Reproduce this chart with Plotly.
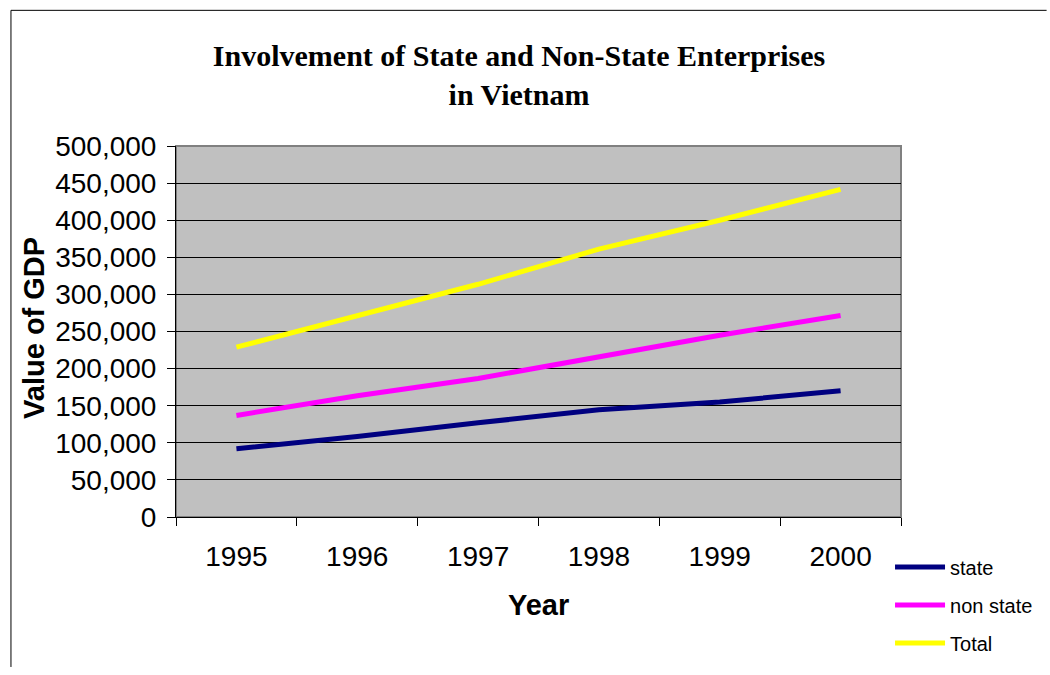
import plotly.graph_objects as go

years = ["1995", "1996", "1997", "1998", "1999", "2000"]
state = [92023, 108634, 126969, 144405, 154927, 170141]
non_state = [136869, 163402, 186654, 216612, 245015, 271505]
total = [228892, 272036, 313623, 361017, 399942, 441646]

y_ticks = [0, 50000, 100000, 150000, 200000, 250000, 300000, 350000, 400000, 450000, 500000]

series = [
    ("state", state, "#000080"),
    ("non state", non_state, "#FF00FF"),
    ("Total", total, "#FFFF00"),
]

fig = go.Figure()
for i, (name, vals, col) in enumerate(series):
    fig.add_trace(go.Scatter(
        x=years, y=vals, name=name, mode="lines",
        line=dict(color=col, width=5),
        legendgroup=f"g{i}",
    ))

W, H = 1050, 675
L, R, T, B = 176, 147, 146, 153
pw, ph = W - L - R, H - T - B

def px(x):
    return (x - L) / pw

def py(y):
    return (H - B - y) / ph

fig.update_layout(
    width=W, height=H,
    margin=dict(l=L, r=R, t=T, b=B),
    paper_bgcolor="white",
    plot_bgcolor="#C0C0C0",
    font=dict(family="Liberation Sans, Arial, sans-serif", color="black"),
    showlegend=True,
    legend=dict(
        x=px(892), y=py(553), xanchor="left", yanchor="top",
        font=dict(size=20, family="Liberation Sans, Arial, sans-serif"),
        bgcolor="rgba(0,0,0,0)", tracegroupgap=9, traceorder="grouped",
        itemwidth=50, borderwidth=0,
    ),
    title=dict(
        text="<b>Involvement of State and Non-State Enterprises<br>in Vietnam</b>",
        font=dict(family="Liberation Serif, Times New Roman, serif", size=30, color="black"),
        x=px(520), xanchor="center", y=1 - 66 / H, yanchor="middle",
        xref="paper", yref="container",
    ),
    xaxis=dict(
        type="category", range=[-0.5, 5.5],
        tickson="boundaries", ticks="outside", ticklen=8, tickcolor="black",
        showline=True, linecolor="black", linewidth=1,
        showgrid=False, tickfont=dict(size=28), ticklabelstandoff=14,
    ),
    yaxis=dict(
        range=[0, 500000], tickvals=y_ticks, tickformat=",d",
        ticks="outside", ticklen=8, tickcolor="black",
        showline=True, linecolor="black", linewidth=1,
        showgrid=True, gridcolor="black", gridwidth=1, zeroline=False,
        tickfont=dict(size=28), ticklabelstandoff=5,
    ),
    annotations=[
        dict(text="<b>Value of GDP</b>", textangle=-90, x=px(33), y=py(330),
             xref="paper", yref="paper", showarrow=False,
             font=dict(size=29), xanchor="center", yanchor="middle"),
        dict(text="<b>Year</b>", x=px(539), y=py(611),
             xref="paper", yref="paper", showarrow=False,
             font=dict(size=29), xanchor="center", yanchor="middle"),
    ],
    shapes=[
        dict(type="rect", xref="paper", yref="paper", x0=0, x1=1, y0=0, y1=1,
             line=dict(color="#808080", width=2), layer="below"),
        # outer chart frame (left and top edges; right/bottom lie outside the view)
        dict(type="line", xref="paper", yref="paper",
             x0=px(10.5), x1=px(10.5), y0=py(674), y1=py(8.5),
             line=dict(color="black", width=1), layer="above"),
        dict(type="line", xref="paper", yref="paper",
             x0=px(10.5), x1=px(1049), y0=py(8.5), y1=py(8.5),
             line=dict(color="black", width=1), layer="above"),
    ],
)

fig.write_html(
    "out.html",
    config={"displayModeBar": False},
    post_script=(
        "var s=document.documentElement.style;s.margin='0';s.padding='0';s.overflow='hidden';"
        "var b=document.body.style;b.margin='0';b.padding='0';b.overflow='hidden';"
        "b.width='1050px';b.height='675px';"
        "document.querySelectorAll('.plotly-graph-div, .svg-container, svg.main-svg').forEach("
        "function(d){d.style.overflow='hidden';});"
    ),
)
